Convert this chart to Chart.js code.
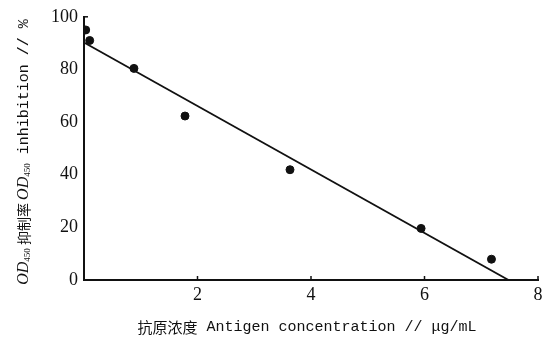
<!DOCTYPE html>
<html>
<head>
<meta charset="utf-8">
<script src="https://cdn.jsdelivr.net/npm/chart.js@4.4.1/dist/chart.umd.min.js"></script>
<style>
  html, body { margin: 0; padding: 0; background: #fff; }
  #wrap { width: 552px; height: 338px; }
</style>
</head>
<body>
<div id="wrap"><canvas id="chart"></canvas></div>
<script>
// measured points
const concentration = [0.03, 0.1, 0.88, 1.78, 3.63, 5.94, 7.18];
const inhibition = [95.0, 91.0, 80.4, 62.3, 41.9, 19.6, 7.9];
// fitted line end points
const fitX = [0, 7.48];
const fitY = [90.2, 0];
const xTicks = [0, 2, 4, 6, 8];
const yTicks = [0, 20, 40, 60, 80, 100];

const serif = "'Liberation Serif', 'Times New Roman', serif";
const mono = "'Liberation Mono', monospace";
const cjk = "'Noto Sans CJK SC', sans-serif";

// draws a run of differently styled pieces, centred on (0,0)
function drawRun(ctx, parts) {
  let total = 0;
  parts.forEach(p => { ctx.font = p.font; p.w = ctx.measureText(p.text).width; total += p.w; });
  let x = -total / 2;
  ctx.textBaseline = "middle";
  ctx.textAlign = "left";
  parts.forEach(p => {
    ctx.font = p.font;
    ctx.fillText(p.text, x, p.dy || 0);
    x += p.w;
  });
}

const decorations = {
  id: "decorations",
  afterDraw(chart) {
    const { ctx, scales: { x, y } } = chart;
    ctx.save();
    ctx.strokeStyle = "#111";
    ctx.fillStyle = "#111";
    ctx.lineWidth = 1.5;
    // inward ticks on the x axis
    xTicks.slice(1).forEach(v => {
      const px = x.getPixelForValue(v);
      ctx.beginPath();
      ctx.moveTo(px, y.bottom);
      ctx.lineTo(px, y.bottom - 4);
      ctx.stroke();
    });
    // small tick at the top of the y axis
    ctx.beginPath();
    ctx.moveTo(x.left, y.top);
    ctx.lineTo(x.left + 4, y.top);
    ctx.stroke();

    // x axis title
    ctx.save();
    ctx.translate((x.left + x.right) / 2 - 4, 327);
    drawRun(ctx, [
      { text: "抗原浓度", font: "15px " + cjk },
      { text: " Antigen concentration // μg/mL", font: "15px " + mono }
    ]);
    ctx.restore();

    // y axis title
    ctx.save();
    ctx.translate(24, 152);
    ctx.rotate(-Math.PI / 2);
    drawRun(ctx, [
      { text: "OD", font: "italic 16px " + serif },
      { text: "450", font: "9px " + serif, dy: 4 },
      { text: " 抑制率 ", font: "14px " + cjk },
      { text: "OD", font: "italic 16px " + serif },
      { text: "450", font: "9px " + serif, dy: 4 },
      { text: " inhibition // %", font: "15px " + mono }
    ]);
    ctx.restore();
    ctx.restore();
  }
};

new Chart(document.getElementById("chart"), {
  type: "scatter",
  data: {
    datasets: [
      {
        type: "scatter",
        data: concentration.map((c, i) => ({ x: c, y: inhibition[i] })),
        backgroundColor: "#111",
        borderColor: "#111",
        pointRadius: 4,
        pointHoverRadius: 4
      },
      {
        type: "line",
        data: fitX.map((c, i) => ({ x: c, y: fitY[i] })),
        borderColor: "#111",
        borderWidth: 1.8,
        pointRadius: 0,
        fill: false
      }
    ]
  },
  options: {
    responsive: true,
    maintainAspectRatio: false,
    animation: false,
    layout: { padding: { top: 16, right: 14, left: 0, bottom: 0 } },
    plugins: { legend: { display: false }, tooltip: { enabled: false } },
    scales: {
      x: {
        type: "linear",
        min: 0,
        max: 8,
        afterBuildTicks: s => { s.ticks = xTicks.map(v => ({ value: v })); },
        afterFit: s => { s.height = 58; },
        grid: { display: false, drawTicks: false },
        border: { color: "#111", width: 2 },
        ticks: {
          padding: 4,
          color: "#111",
          font: { family: serif, size: 18 },
          callback: v => (v === 0 ? "" : v)
        }
      },
      y: {
        type: "linear",
        min: 0,
        max: 100,
        afterBuildTicks: s => { s.ticks = yTicks.map(v => ({ value: v })); },
        afterFit: s => { s.width = 84; },
        grid: { display: false, drawTicks: false },
        border: { color: "#111", width: 2 },
        ticks: {
          padding: 6,
          color: "#111",
          font: { family: serif, size: 18 }
        }
      }
    }
  },
  plugins: [decorations]
});
</script>
</body>
</html>
